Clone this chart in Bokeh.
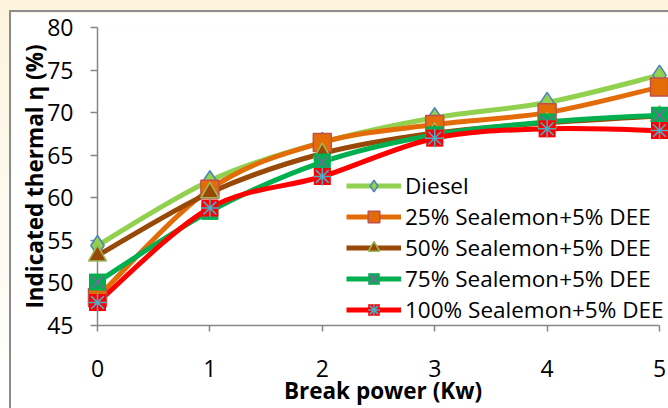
from bokeh.plotting import figure
from bokeh.layouts import column
from bokeh.models import Range1d, FixedTicker, Legend, LegendItem
from bokeh.embed import file_html
from bokeh.resources import INLINE

power = [0, 1, 2, 3, 4, 5]
diesel = [54.4, 62.0, 66.5, 69.4, 71.2, 74.4]
s25 = [48.3, 61.0, 66.5, 68.6, 70.0, 73.0]
s50 = [53.2, 60.6, 65.2, 67.6, 68.8, 69.6]
s75 = [50.1, 58.4, 64.2, 67.4, 68.9, 69.7]
s100 = [47.7, 58.8, 62.5, 67.0, 68.1, 67.9]
y_ticks = [45, 50, 55, 60, 65, 70, 75, 80]
x_ticks = [0, 1, 2, 3, 4, 5]
labels = ["Diesel", "25% Sealemon+5% DEE", "50% Sealemon+5% DEE",
          "75% Sealemon+5% DEE", "100% Sealemon+5% DEE"]

FONT = "Open Sans"
p = figure(width=657, height=396, output_backend="svg", toolbar_location=None,
           x_range=Range1d(0, 5.08), y_range=Range1d(45, 80),
           min_border_left=86, min_border_right=0, min_border_top=15, min_border_bottom=80,
           styles={"outline": "2px solid #8C8C8C"})
p.outline_line_color = None
p.grid.visible = False
p.background_fill_color = "white"
p.border_fill_color = "white"

for ax in (p.xaxis[0], p.yaxis[0]):
    ax.axis_line_color = "#868686"
    ax.axis_line_width = 1.5
    ax.major_tick_line_color = "#868686"
    ax.major_tick_line_width = 1.5
    ax.minor_tick_line_color = None
    ax.major_tick_in = 0
    ax.major_label_text_font = FONT
    ax.major_label_text_font_size = "23px"
    ax.major_label_text_color = "black"
    ax.axis_label_text_font = FONT
    ax.axis_label_text_font_style = "bold"
    ax.axis_label_text_font_size = "22.5px"
    ax.axis_label_text_color = "black"

p.xaxis.ticker = FixedTicker(ticks=x_ticks)
p.yaxis.ticker = FixedTicker(ticks=y_ticks)
p.xaxis.bounds = (0, 5)
p.xaxis.major_tick_out = 6
p.yaxis.major_tick_out = 7
p.xaxis.major_label_standoff = 28
p.yaxis.major_label_standoff = 17
p.xaxis.axis_label = "Break power (Kw)"
p.yaxis.axis_label = "Indicated thermal η (%)"
p.xaxis.axis_label_standoff = -5
p.yaxis.axis_label_standoff = -6


def smooth(xs, ys, color):
    """Excel-style smoothed line drawn as cubic Bezier segments between data points."""
    n = len(xs)
    x0, y0, x1, y1, cx0, cy0, cx1, cy1 = [], [], [], [], [], [], [], []
    for i in range(n - 1):
        ip, inn = max(i - 1, 0), min(i + 2, n - 1)
        x0.append(xs[i]); y0.append(ys[i]); x1.append(xs[i + 1]); y1.append(ys[i + 1])
        cx0.append(xs[i] + (xs[i + 1] - xs[ip]) / 6); cy0.append(ys[i] + (ys[i + 1] - ys[ip]) / 6)
        cx1.append(xs[i + 1] - (xs[inn] - xs[i]) / 6); cy1.append(ys[i + 1] - (ys[inn] - ys[i]) / 6)
    p.bezier(x0=x0, y0=y0, x1=x1, y1=y1, cx0=cx0, cy0=cy0, cx1=cx1, cy1=cy1,
             line_color=color, line_width=5)
    # line renderer used only for the legend swatch
    return p.line(xs, ys, line_color=color, line_width=5, visible=False)


items = []
# Diesel
r1 = smooth(power, diesel, "#92D050")
m1 = p.scatter(power, diesel, marker="diamond", size=20, fill_color="#92D050",
               line_color="#4F81BD", line_width=1.5, level="overlay")
items.append(LegendItem(label=labels[0], renderers=[r1, m1]))
# 25%
r2 = smooth(power, s25, "#E36C09")
m2 = p.scatter(power, s25, marker="square", size=18, fill_color="#E36C09",
               line_color="#C0504D", line_width=1.5, level="overlay")
items.append(LegendItem(label=labels[1], renderers=[r2, m2]))
# 50%
r3 = smooth(power, s50, "#984807")
m3 = p.scatter(power, s50, marker="triangle", size=18, fill_color="#984807",
               line_color="#9BBB59", line_width=1.5, level="overlay")
items.append(LegendItem(label=labels[2], renderers=[r3, m3]))
# 75%
r4 = smooth(power, s75, "#00B050")
m4a = p.scatter(power, s75, marker="square", size=17, fill_color="#00B050",
                line_color=None, level="overlay")
m4b = p.scatter(power, s75, marker="x", size=17, line_color="#8064A2",
                line_width=1.5, level="overlay")
items.append(LegendItem(label=labels[3], renderers=[r4, m4a, m4b]))
# 100%
r5 = smooth(power, s100, "#FF0000")
m5a = p.scatter(power, s100, marker="square", size=17, fill_color="#FF0000",
                line_color=None, level="overlay")
m5b = p.scatter(power, s100, marker="asterisk", size=18, line_color="#4BACC6",
                line_width=1.5, level="overlay")
items.append(LegendItem(label=labels[4], renderers=[r5, m5a, m5b]))

legend = Legend(items=items, location=(249, 0), padding=0, margin=0,
                border_line_color=None, background_fill_alpha=0,
                glyph_width=55, glyph_height=29, label_height=29, spacing=-3,
                label_standoff=4, label_text_font=FONT, label_text_font_size="22.5px",
                label_text_color="black")
p.add_layout(legend, "center")

page = column(p, styles={"background": "linear-gradient(to bottom, #FDF4DE, #FFFFFF)",
                         "padding-left": "11px", "padding-top": "12px"})

open("out.html", "w").write(file_html(page, INLINE))
